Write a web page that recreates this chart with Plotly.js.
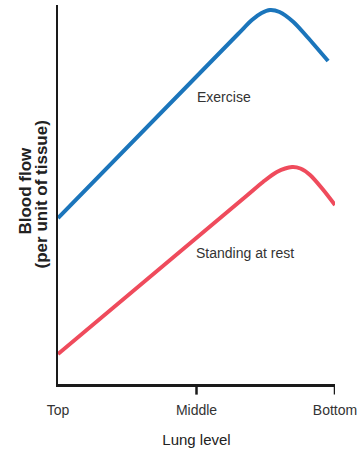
<!DOCTYPE html>
<html>
<head>
<meta charset="utf-8">
<script src="https://cdn.plot.ly/plotly-3.0.1.min.js"></script>
<style>html,body{margin:0;padding:0;background:#fff;}</style>
</head>
<body>
<div id="chart" style="width:364px;height:453px;"></div>
<script>
// Lung level: 0 = Top, 0.5 = Middle, 1 = Bottom
const tickVals = [0, 0.5, 1];
const tickLabels = ["Top", "Middle", "Bottom"];

// Blood flow (per unit of tissue), arbitrary units
const exerciseX = [0, 0.65, 0.70, 0.735, 0.765, 0.80, 0.85, 0.90, 0.975];
const exerciseY = [166, 350, 364, 371, 374, 372, 362, 347, 323];

const restX = [0, 0.68, 0.74, 0.79, 0.845, 0.875, 0.91, 0.955, 1.0];
const restY = [30, 188, 202, 212, 217, 215.5, 209, 195, 179];

const SANS = '"Liberation Sans", Arial, sans-serif';

const traces = [
  {x: exerciseX, y: exerciseY, mode: 'lines', name: 'Exercise',
   line: {color: '#1b75bb', width: 4, shape: 'spline', smoothing: 0.8}, cliponaxis: false},
  {x: restX, y: restY, mode: 'lines', name: 'Standing at rest',
   line: {color: '#ef4b5c', width: 4, shape: 'spline', smoothing: 0.8}, cliponaxis: false}
];

const layout = {
  width: 364, height: 453,
  margin: {l: 58, r: 29, t: 5, b: 69},
  paper_bgcolor: '#fff', plot_bgcolor: '#fff',
  showlegend: false,
  xaxis: {
    range: [0, 1], showgrid: false, zeroline: false,
    showline: true, linecolor: '#1a1a1a', linewidth: 2.5,
    tickvals: tickVals, ticktext: tickLabels,
    ticks: 'outside', ticklen: 12, tickcolor: 'rgba(0,0,0,0)',
    tickfont: {family: SANS, size: 14, color: '#333'},
    title: {text: 'Lung level', font: {family: SANS, size: 15, color: '#222'}, standoff: 17},
    fixedrange: true
  },
  yaxis: {
    range: [0, 379], showgrid: false, zeroline: false,
    showline: true, linecolor: '#1a1a1a', linewidth: 2.5,
    showticklabels: false, ticks: '', fixedrange: true
  },
  shapes: [
    {type: 'line', xref: 'x', yref: 'paper', x0: 0.5, x1: 0.5, y0: 0, y1: -0.028, line: {color: '#1a1a1a', width: 2.5}},
    {type: 'line', xref: 'x', yref: 'paper', x0: 1, x1: 1, y0: 0, y1: -0.028, line: {color: '#1a1a1a', width: 2.5}}
  ],
  annotations: [
    {text: 'Exercise', x: 0.60, y: 287, xref: 'x', yref: 'y', showarrow: false,
     font: {family: SANS, size: 14, color: '#333'}},
    {text: 'Standing at rest', x: 0.675, y: 131, xref: 'x', yref: 'y', showarrow: false,
     font: {family: SANS, size: 14, color: '#333'}},
    {text: '<b>Blood flow</b>', x: -0.116, y: 0.51, xref: 'paper', yref: 'paper',
     xanchor: 'center', yanchor: 'middle', textangle: -90, showarrow: false,
     font: {family: SANS, size: 17, color: '#222'}},
    {text: '<b>(per unit of tissue)</b>', x: -0.058, y: 0.50, xref: 'paper', yref: 'paper',
     xanchor: 'center', yanchor: 'middle', textangle: -90, showarrow: false,
     font: {family: SANS, size: 17, color: '#222'}}
  ]
};

Plotly.newPlot('chart', traces, layout, {displayModeBar: false, staticPlot: true});
</script>
</body>
</html>
